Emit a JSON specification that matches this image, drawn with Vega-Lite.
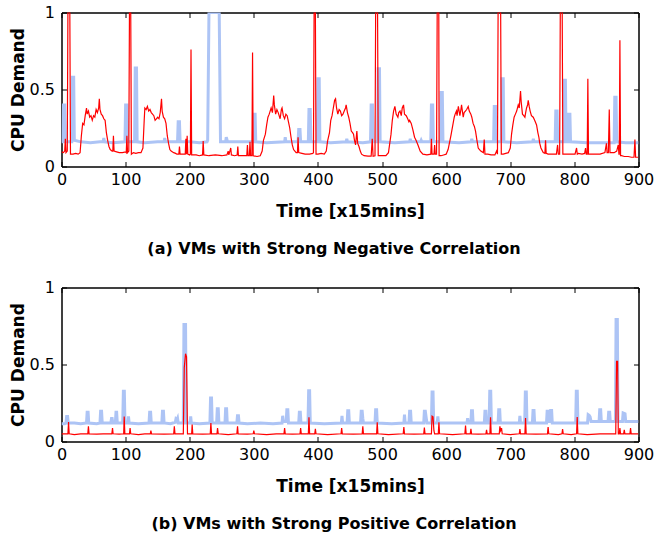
{
"$schema": "https://vega.github.io/schema/vega-lite/v6.json",
"padding": {"left": 8.5, "top": 3.5, "right": 0, "bottom": 5},
"background": "white",
"config": {
 "view": {"stroke": "black", "strokeWidth": 1},
 "axis": {"grid": false, "labelFlush": false, "domain": true, "domainColor": "black", "domainWidth": 1, "tickColor": "black", "tickWidth": 1, "tickSize": -5, "labelFont": "DejaVu Sans", "labelFontSize": 16, "labelColor": "black", "titleFont": "DejaVu Sans", "titleFontSize": 17, "titleFontWeight": "bold", "titleColor": "black"},
 "title": {"font": "DejaVu Sans", "fontSize": 16, "fontWeight": "bold", "color": "black"},
 "concat": {"spacing": 21}
},
"datasets": {
"a_blue": [{"t":0,"v":0.16},{"t":2,"v":0.16},{"t":3,"v":0.4},{"t":5,"v":0.4},{"t":6,"v":0.16},{"t":10,"v":0.16},{"t":16,"v":0.16},{"t":17,"v":0.58},{"t":19,"v":0.58},{"t":20,"v":0.17},{"t":30,"v":0.16},{"t":45,"v":0.155},{"t":60,"v":0.16},{"t":65,"v":0.16},{"t":66,"v":0.185},{"t":67,"v":0.16},{"t":80,"v":0.155},{"t":99,"v":0.16},{"t":100,"v":0.4},{"t":102,"v":0.4},{"t":103,"v":0.16},{"t":114,"v":0.16},{"t":115,"v":0.64},{"t":117,"v":0.64},{"t":118,"v":0.16},{"t":130,"v":0.155},{"t":150,"v":0.16},{"t":160,"v":0.16},{"t":161,"v":0.185},{"t":162,"v":0.16},{"t":181,"v":0.16},{"t":182,"v":0.29},{"t":184,"v":0.29},{"t":185,"v":0.16},{"t":200,"v":0.16},{"t":215,"v":0.155},{"t":227,"v":0.16},{"t":228,"v":0.17},{"t":230,"v":1.0},{"t":246,"v":1.0},{"t":248,"v":0.16},{"t":256,"v":0.16},{"t":257,"v":0.19},{"t":259,"v":0.16},{"t":275,"v":0.16},{"t":299,"v":0.16},{"t":300,"v":0.34},{"t":302,"v":0.34},{"t":303,"v":0.16},{"t":320,"v":0.155},{"t":348,"v":0.16},{"t":349,"v":0.19},{"t":350,"v":0.16},{"t":369,"v":0.16},{"t":370,"v":0.24},{"t":372,"v":0.24},{"t":373,"v":0.16},{"t":385,"v":0.16},{"t":386,"v":0.37},{"t":388,"v":0.37},{"t":389,"v":0.16},{"t":399,"v":0.16},{"t":400,"v":0.57},{"t":402,"v":0.57},{"t":403,"v":0.16},{"t":420,"v":0.155},{"t":444,"v":0.16},{"t":445,"v":0.18},{"t":446,"v":0.16},{"t":470,"v":0.155},{"t":482,"v":0.16},{"t":483,"v":0.4},{"t":485,"v":0.4},{"t":486,"v":0.16},{"t":493,"v":0.16},{"t":494,"v":0.635},{"t":496,"v":0.635},{"t":497,"v":0.16},{"t":520,"v":0.155},{"t":543,"v":0.16},{"t":544,"v":0.18},{"t":545,"v":0.16},{"t":560,"v":0.16},{"t":561,"v":0.17},{"t":562,"v":0.16},{"t":576,"v":0.16},{"t":577,"v":0.4},{"t":579,"v":0.4},{"t":580,"v":0.16},{"t":591,"v":0.16},{"t":592,"v":0.48},{"t":594,"v":0.48},{"t":595,"v":0.16},{"t":620,"v":0.155},{"t":639,"v":0.16},{"t":640,"v":0.18},{"t":641,"v":0.16},{"t":674,"v":0.16},{"t":675,"v":0.39},{"t":677,"v":0.39},{"t":678,"v":0.16},{"t":686,"v":0.16},{"t":687,"v":0.57},{"t":689,"v":0.57},{"t":690,"v":0.16},{"t":710,"v":0.155},{"t":735,"v":0.16},{"t":736,"v":0.18},{"t":737,"v":0.16},{"t":770,"v":0.16},{"t":771,"v":0.36},{"t":773,"v":0.36},{"t":774,"v":0.16},{"t":783,"v":0.16},{"t":784,"v":0.56},{"t":786,"v":0.56},{"t":787,"v":0.16},{"t":790,"v":0.16},{"t":791,"v":0.34},{"t":793,"v":0.34},{"t":794,"v":0.16},{"t":820,"v":0.155},{"t":850,"v":0.155},{"t":862,"v":0.155},{"t":863,"v":0.45},{"t":865,"v":0.45},{"t":866,"v":0.16},{"t":880,"v":0.155},{"t":900,"v":0.155}],
"a_red": [{"t":0,"v":0.095},{"t":3,"v":0.09},{"t":5,"v":0.1},{"t":6,"v":0.18},{"t":7,"v":0.09},{"t":9,"v":0.1},{"t":10,"v":1.0},{"t":13,"v":1.0},{"t":14,"v":0.08},{"t":18,"v":0.08},{"t":22,"v":0.085},{"t":26,"v":0.08},{"t":29,"v":0.09},{"t":31,"v":0.2},{"t":33,"v":0.28},{"t":35,"v":0.27},{"t":37,"v":0.33},{"t":39,"v":0.38},{"t":40,"v":0.34},{"t":42,"v":0.36},{"t":44,"v":0.32},{"t":46,"v":0.33},{"t":48,"v":0.3},{"t":50,"v":0.33},{"t":52,"v":0.32},{"t":54,"v":0.37},{"t":56,"v":0.35},{"t":58,"v":0.38},{"t":59,"v":0.44},{"t":60,"v":0.37},{"t":62,"v":0.34},{"t":64,"v":0.33},{"t":66,"v":0.31},{"t":68,"v":0.3},{"t":70,"v":0.22},{"t":72,"v":0.17},{"t":74,"v":0.13},{"t":76,"v":0.11},{"t":79,"v":0.1},{"t":80,"v":0.1},{"t":81,"v":0.2},{"t":82,"v":0.1},{"t":86,"v":0.095},{"t":90,"v":0.09},{"t":95,"v":0.09},{"t":100,"v":0.095},{"t":101,"v":0.09},{"t":102,"v":0.2},{"t":103,"v":0.09},{"t":105,"v":0.1},{"t":106,"v":1.0},{"t":108,"v":1.0},{"t":109,"v":0.08},{"t":112,"v":0.09},{"t":116,"v":0.085},{"t":120,"v":0.09},{"t":124,"v":0.09},{"t":127,"v":0.12},{"t":129,"v":0.3},{"t":130,"v":0.38},{"t":132,"v":0.37},{"t":134,"v":0.39},{"t":136,"v":0.36},{"t":138,"v":0.37},{"t":140,"v":0.35},{"t":142,"v":0.34},{"t":144,"v":0.33},{"t":146,"v":0.3},{"t":148,"v":0.31},{"t":150,"v":0.32},{"t":152,"v":0.31},{"t":154,"v":0.35},{"t":156,"v":0.44},{"t":157,"v":0.36},{"t":159,"v":0.32},{"t":161,"v":0.31},{"t":163,"v":0.28},{"t":165,"v":0.2},{"t":167,"v":0.15},{"t":169,"v":0.11},{"t":171,"v":0.1},{"t":175,"v":0.09},{"t":178,"v":0.085},{"t":180,"v":0.08},{"t":183,"v":0.08},{"t":184,"v":0.13},{"t":185,"v":0.08},{"t":190,"v":0.08},{"t":193,"v":0.08},{"t":194,"v":0.18},{"t":195,"v":0.08},{"t":196,"v":0.2},{"t":197,"v":0.08},{"t":200,"v":0.075},{"t":201,"v":0.08},{"t":202,"v":0.76},{"t":203,"v":0.075},{"t":210,"v":0.075},{"t":215,"v":0.07},{"t":220,"v":0.075},{"t":221,"v":0.165},{"t":222,"v":0.075},{"t":230,"v":0.07},{"t":240,"v":0.075},{"t":250,"v":0.07},{"t":258,"v":0.075},{"t":260,"v":0.1},{"t":261,"v":0.075},{"t":264,"v":0.12},{"t":265,"v":0.075},{"t":270,"v":0.07},{"t":274,"v":0.075},{"t":275,"v":0.13},{"t":276,"v":0.07},{"t":285,"v":0.07},{"t":289,"v":0.07},{"t":290,"v":0.14},{"t":291,"v":0.07},{"t":293,"v":0.07},{"t":294,"v":0.16},{"t":295,"v":0.07},{"t":297,"v":0.07},{"t":298,"v":0.74},{"t":299,"v":0.07},{"t":305,"v":0.065},{"t":310,"v":0.07},{"t":313,"v":0.1},{"t":315,"v":0.17},{"t":318,"v":0.21},{"t":320,"v":0.27},{"t":322,"v":0.32},{"t":324,"v":0.34},{"t":327,"v":0.38},{"t":329,"v":0.35},{"t":331,"v":0.46},{"t":332,"v":0.4},{"t":334,"v":0.34},{"t":336,"v":0.37},{"t":338,"v":0.35},{"t":341,"v":0.31},{"t":343,"v":0.37},{"t":344,"v":0.38},{"t":346,"v":0.33},{"t":348,"v":0.31},{"t":350,"v":0.34},{"t":352,"v":0.33},{"t":354,"v":0.29},{"t":356,"v":0.25},{"t":358,"v":0.19},{"t":360,"v":0.14},{"t":362,"v":0.11},{"t":364,"v":0.1},{"t":366,"v":0.09},{"t":368,"v":0.09},{"t":369,"v":0.19},{"t":370,"v":0.09},{"t":375,"v":0.085},{"t":380,"v":0.08},{"t":387,"v":0.08},{"t":392,"v":0.085},{"t":393,"v":0.09},{"t":394,"v":1.0},{"t":396,"v":1.0},{"t":397,"v":0.08},{"t":400,"v":0.08},{"t":405,"v":0.085},{"t":410,"v":0.08},{"t":413,"v":0.1},{"t":415,"v":0.165},{"t":418,"v":0.22},{"t":420,"v":0.3},{"t":422,"v":0.33},{"t":424,"v":0.38},{"t":426,"v":0.43},{"t":427.5,"v":0.44},{"t":429,"v":0.38},{"t":431,"v":0.34},{"t":433,"v":0.37},{"t":435,"v":0.36},{"t":437,"v":0.33},{"t":439,"v":0.34},{"t":441,"v":0.36},{"t":443,"v":0.38},{"t":444,"v":0.4},{"t":446,"v":0.35},{"t":448,"v":0.32},{"t":450,"v":0.28},{"t":452,"v":0.23},{"t":454,"v":0.22},{"t":455.5,"v":0.21},{"t":457,"v":0.17},{"t":458.7,"v":0.14},{"t":460.7,"v":0.23},{"t":462,"v":0.15},{"t":464,"v":0.13},{"t":466,"v":0.1},{"t":468,"v":0.08},{"t":472,"v":0.07},{"t":478,"v":0.067},{"t":483,"v":0.067},{"t":484.7,"v":0.18},{"t":486,"v":0.067},{"t":489,"v":0.07},{"t":490,"v":1.0},{"t":493,"v":1.0},{"t":494,"v":0.07},{"t":500,"v":0.07},{"t":506,"v":0.07},{"t":510,"v":0.09},{"t":512,"v":0.15},{"t":514,"v":0.21},{"t":516,"v":0.3},{"t":518,"v":0.36},{"t":520,"v":0.39},{"t":522,"v":0.34},{"t":524.7,"v":0.32},{"t":526,"v":0.35},{"t":528,"v":0.36},{"t":530,"v":0.33},{"t":531.5,"v":0.38},{"t":533.5,"v":0.4},{"t":535,"v":0.34},{"t":537.7,"v":0.33},{"t":540,"v":0.31},{"t":541.9,"v":0.29},{"t":543,"v":0.3},{"t":545.5,"v":0.28},{"t":548,"v":0.24},{"t":550.7,"v":0.19},{"t":553,"v":0.17},{"t":556,"v":0.14},{"t":559.5,"v":0.1},{"t":563.7,"v":0.08},{"t":570,"v":0.075},{"t":576,"v":0.08},{"t":577,"v":0.18},{"t":578,"v":0.08},{"t":581,"v":0.08},{"t":582,"v":0.14},{"t":583,"v":0.08},{"t":585,"v":0.08},{"t":586,"v":1.0},{"t":588.5,"v":1.0},{"t":589,"v":0.07},{"t":592,"v":0.07},{"t":596,"v":0.075},{"t":600,"v":0.08},{"t":603,"v":0.11},{"t":605,"v":0.15},{"t":607.4,"v":0.2},{"t":610,"v":0.26},{"t":612.6,"v":0.32},{"t":614,"v":0.34},{"t":616,"v":0.36},{"t":617,"v":0.33},{"t":619,"v":0.39},{"t":621.4,"v":0.33},{"t":623,"v":0.37},{"t":624,"v":0.4},{"t":626.6,"v":0.32},{"t":628,"v":0.35},{"t":630,"v":0.36},{"t":632,"v":0.37},{"t":634.4,"v":0.39},{"t":636,"v":0.36},{"t":638.5,"v":0.34},{"t":640,"v":0.32},{"t":642,"v":0.28},{"t":644,"v":0.26},{"t":645.8,"v":0.23},{"t":648,"v":0.17},{"t":650,"v":0.12},{"t":652,"v":0.11},{"t":654,"v":0.1},{"t":658,"v":0.09},{"t":659.4,"v":0.175},{"t":660.5,"v":0.08},{"t":665,"v":0.08},{"t":670,"v":0.075},{"t":676,"v":0.075},{"t":678.6,"v":0.1},{"t":680,"v":0.08},{"t":681,"v":1.0},{"t":685,"v":1.0},{"t":686,"v":0.08},{"t":689,"v":0.08},{"t":693,"v":0.085},{"t":697,"v":0.09},{"t":700,"v":0.12},{"t":702,"v":0.21},{"t":704,"v":0.27},{"t":706,"v":0.32},{"t":708,"v":0.34},{"t":710,"v":0.36},{"t":712.4,"v":0.4},{"t":714,"v":0.38},{"t":716,"v":0.49},{"t":717,"v":0.42},{"t":719,"v":0.34},{"t":721,"v":0.33},{"t":722.8,"v":0.32},{"t":724,"v":0.35},{"t":725.4,"v":0.38},{"t":727,"v":0.4},{"t":728,"v":0.43},{"t":729.5,"v":0.39},{"t":731,"v":0.36},{"t":733,"v":0.33},{"t":735.8,"v":0.32},{"t":738,"v":0.3},{"t":741,"v":0.27},{"t":743,"v":0.22},{"t":744.6,"v":0.19},{"t":746,"v":0.15},{"t":747.8,"v":0.12},{"t":751.4,"v":0.09},{"t":754,"v":0.085},{"t":755,"v":0.17},{"t":756,"v":0.085},{"t":759,"v":0.08},{"t":765,"v":0.08},{"t":772,"v":0.08},{"t":773.8,"v":0.14},{"t":775,"v":0.08},{"t":777,"v":0.08},{"t":778,"v":1.0},{"t":781,"v":1.0},{"t":782,"v":0.08},{"t":784,"v":0.08},{"t":790,"v":0.08},{"t":795,"v":0.08},{"t":801,"v":0.08},{"t":803.4,"v":0.12},{"t":804.5,"v":0.08},{"t":806,"v":0.085},{"t":812,"v":0.08},{"t":816,"v":0.085},{"t":817.4,"v":0.12},{"t":818.5,"v":0.08},{"t":820,"v":0.08},{"t":821,"v":0.57},{"t":822,"v":0.08},{"t":824,"v":0.08},{"t":830,"v":0.08},{"t":835,"v":0.08},{"t":840,"v":0.08},{"t":847.6,"v":0.09},{"t":850,"v":0.15},{"t":851,"v":0.09},{"t":853,"v":0.09},{"t":854.4,"v":0.37},{"t":855.5,"v":0.09},{"t":858,"v":0.09},{"t":862,"v":0.09},{"t":866,"v":0.1},{"t":868.4,"v":0.14},{"t":869.5,"v":0.08},{"t":870,"v":0.08},{"t":871,"v":0.82},{"t":872,"v":0.07},{"t":873.6,"v":0.07},{"t":878,"v":0.065},{"t":884,"v":0.065},{"t":889,"v":0.06},{"t":892,"v":0.06},{"t":893,"v":0.06},{"t":894.4,"v":0.175},{"t":895.5,"v":0.06},{"t":900,"v":0.06}],
"b_blue": [{"t":0,"v":0.115},{"t":5,"v":0.115},{"t":7,"v":0.12},{"t":8,"v":0.163},{"t":9.5,"v":0.163},{"t":10.5,"v":0.12},{"t":20,"v":0.12},{"t":30,"v":0.115},{"t":39,"v":0.12},{"t":40,"v":0.19},{"t":41.5,"v":0.19},{"t":42.5,"v":0.12},{"t":55,"v":0.115},{"t":60,"v":0.12},{"t":61,"v":0.196},{"t":62.5,"v":0.196},{"t":63.5,"v":0.12},{"t":77,"v":0.12},{"t":78,"v":0.15},{"t":79,"v":0.15},{"t":80,"v":0.12},{"t":84,"v":0.12},{"t":85,"v":0.19},{"t":86,"v":0.19},{"t":87,"v":0.12},{"t":95.5,"v":0.12},{"t":96.5,"v":0.326},{"t":98,"v":0.326},{"t":99,"v":0.12},{"t":103.5,"v":0.12},{"t":104.5,"v":0.163},{"t":105.5,"v":0.12},{"t":120,"v":0.115},{"t":136.5,"v":0.12},{"t":137.5,"v":0.19},{"t":139,"v":0.19},{"t":140,"v":0.12},{"t":156.5,"v":0.12},{"t":157.5,"v":0.196},{"t":159,"v":0.196},{"t":160,"v":0.12},{"t":170,"v":0.115},{"t":177.5,"v":0.125},{"t":178.5,"v":0.146},{"t":180,"v":0.14},{"t":181,"v":0.15},{"t":182,"v":0.12},{"t":190,"v":0.12},{"t":191,"v":0.76},{"t":193.5,"v":0.76},{"t":194.5,"v":0.12},{"t":200.5,"v":0.12},{"t":201.5,"v":0.163},{"t":202.5,"v":0.12},{"t":215,"v":0.115},{"t":231.5,"v":0.12},{"t":232.5,"v":0.283},{"t":234,"v":0.283},{"t":235,"v":0.12},{"t":242,"v":0.12},{"t":243,"v":0.213},{"t":244.5,"v":0.213},{"t":245.5,"v":0.12},{"t":255,"v":0.12},{"t":256,"v":0.213},{"t":257.5,"v":0.213},{"t":258.5,"v":0.12},{"t":273.5,"v":0.12},{"t":274.5,"v":0.167},{"t":276,"v":0.167},{"t":277,"v":0.12},{"t":290,"v":0.115},{"t":310,"v":0.12},{"t":330,"v":0.115},{"t":344,"v":0.12},{"t":345,"v":0.167},{"t":346,"v":0.13},{"t":350.5,"v":0.13},{"t":351.5,"v":0.206},{"t":353,"v":0.206},{"t":354,"v":0.12},{"t":370,"v":0.12},{"t":371,"v":0.19},{"t":372.5,"v":0.19},{"t":373.5,"v":0.12},{"t":384.5,"v":0.12},{"t":385.5,"v":0.33},{"t":387,"v":0.33},{"t":388,"v":0.12},{"t":410,"v":0.115},{"t":436.5,"v":0.12},{"t":437.5,"v":0.167},{"t":438.5,"v":0.12},{"t":445.5,"v":0.12},{"t":446.5,"v":0.2},{"t":448,"v":0.2},{"t":449,"v":0.12},{"t":466.5,"v":0.12},{"t":467.5,"v":0.196},{"t":469,"v":0.196},{"t":470,"v":0.15},{"t":471,"v":0.12},{"t":489,"v":0.12},{"t":490,"v":0.206},{"t":491.5,"v":0.206},{"t":492.5,"v":0.12},{"t":515,"v":0.115},{"t":534,"v":0.12},{"t":535,"v":0.174},{"t":536,"v":0.12},{"t":542,"v":0.12},{"t":543,"v":0.196},{"t":544.5,"v":0.196},{"t":545.5,"v":0.12},{"t":565,"v":0.12},{"t":566,"v":0.196},{"t":567.5,"v":0.196},{"t":569,"v":0.15},{"t":570,"v":0.12},{"t":577,"v":0.12},{"t":578,"v":0.322},{"t":579.5,"v":0.322},{"t":580.5,"v":0.12},{"t":586,"v":0.12},{"t":587,"v":0.163},{"t":588,"v":0.12},{"t":610,"v":0.12},{"t":632.5,"v":0.12},{"t":633.5,"v":0.152},{"t":634.5,"v":0.12},{"t":638.5,"v":0.12},{"t":639.5,"v":0.2},{"t":641,"v":0.2},{"t":642,"v":0.12},{"t":659.5,"v":0.12},{"t":660.5,"v":0.196},{"t":662,"v":0.196},{"t":663,"v":0.12},{"t":667,"v":0.12},{"t":668,"v":0.326},{"t":669.5,"v":0.326},{"t":670.5,"v":0.12},{"t":681,"v":0.12},{"t":682,"v":0.206},{"t":683.5,"v":0.206},{"t":684.5,"v":0.12},{"t":700,"v":0.12},{"t":714,"v":0.12},{"t":715,"v":0.167},{"t":716,"v":0.12},{"t":722.5,"v":0.12},{"t":723.5,"v":0.322},{"t":725,"v":0.322},{"t":726,"v":0.12},{"t":734.5,"v":0.12},{"t":735.5,"v":0.202},{"t":737,"v":0.202},{"t":738,"v":0.12},{"t":756.5,"v":0.12},{"t":757.5,"v":0.196},{"t":759,"v":0.196},{"t":760,"v":0.13},{"t":762,"v":0.13},{"t":763,"v":0.202},{"t":764.5,"v":0.202},{"t":765.5,"v":0.12},{"t":780,"v":0.12},{"t":802,"v":0.12},{"t":803,"v":0.326},{"t":804.5,"v":0.326},{"t":805.5,"v":0.12},{"t":820.5,"v":0.12},{"t":821.5,"v":0.174},{"t":823,"v":0.17},{"t":824.5,"v":0.16},{"t":826,"v":0.13},{"t":838.5,"v":0.13},{"t":839.5,"v":0.206},{"t":841,"v":0.206},{"t":842,"v":0.13},{"t":852.5,"v":0.13},{"t":853.5,"v":0.19},{"t":855,"v":0.19},{"t":856,"v":0.13},{"t":864,"v":0.13},{"t":865,"v":0.793},{"t":867,"v":0.793},{"t":868,"v":0.13},{"t":875,"v":0.13},{"t":876,"v":0.185},{"t":879,"v":0.18},{"t":880,"v":0.13},{"t":890,"v":0.13},{"t":900,"v":0.13}],
"b_red": [{"t":0,"v":0.05},{"t":5,"v":0.05},{"t":10,"v":0.05},{"t":11,"v":0.126},{"t":12,"v":0.05},{"t":20,"v":0.045},{"t":30,"v":0.05},{"t":41,"v":0.05},{"t":42,"v":0.098},{"t":43,"v":0.05},{"t":55,"v":0.048},{"t":65,"v":0.05},{"t":78.5,"v":0.05},{"t":79.6,"v":0.087},{"t":80.5,"v":0.05},{"t":90,"v":0.048},{"t":97,"v":0.05},{"t":97.8,"v":0.163},{"t":98.8,"v":0.05},{"t":106,"v":0.05},{"t":107,"v":0.087},{"t":108,"v":0.05},{"t":120,"v":0.045},{"t":130,"v":0.05},{"t":138.5,"v":0.05},{"t":139.4,"v":0.07},{"t":140.5,"v":0.05},{"t":160,"v":0.048},{"t":175,"v":0.05},{"t":176,"v":0.098},{"t":177,"v":0.05},{"t":190,"v":0.05},{"t":191.5,"v":0.48},{"t":193.5,"v":0.57},{"t":195,"v":0.55},{"t":196.5,"v":0.05},{"t":203,"v":0.05},{"t":203.8,"v":0.11},{"t":204.8,"v":0.05},{"t":220,"v":0.048},{"t":232,"v":0.05},{"t":233,"v":0.12},{"t":234,"v":0.05},{"t":242.5,"v":0.05},{"t":243.4,"v":0.087},{"t":244.5,"v":0.05},{"t":260,"v":0.045},{"t":273.5,"v":0.05},{"t":274.6,"v":0.098},{"t":275.5,"v":0.05},{"t":290,"v":0.048},{"t":299,"v":0.05},{"t":300,"v":0.07},{"t":301,"v":0.05},{"t":320,"v":0.045},{"t":335,"v":0.05},{"t":347,"v":0.05},{"t":348,"v":0.087},{"t":349,"v":0.05},{"t":360,"v":0.048},{"t":372,"v":0.05},{"t":373,"v":0.087},{"t":374,"v":0.05},{"t":385,"v":0.05},{"t":386,"v":0.157},{"t":387,"v":0.05},{"t":395,"v":0.05},{"t":396,"v":0.083},{"t":397,"v":0.05},{"t":415,"v":0.045},{"t":436,"v":0.05},{"t":437,"v":0.087},{"t":438,"v":0.05},{"t":455,"v":0.048},{"t":469,"v":0.05},{"t":470,"v":0.098},{"t":471,"v":0.05},{"t":491.5,"v":0.05},{"t":492.5,"v":0.124},{"t":493.5,"v":0.05},{"t":510,"v":0.045},{"t":533,"v":0.05},{"t":534,"v":0.093},{"t":535,"v":0.05},{"t":550,"v":0.048},{"t":565,"v":0.05},{"t":566,"v":0.091},{"t":567,"v":0.05},{"t":577,"v":0.05},{"t":578,"v":0.165},{"t":579.5,"v":0.16},{"t":580.9,"v":0.07},{"t":582,"v":0.05},{"t":587.7,"v":0.05},{"t":588.7,"v":0.124},{"t":589.7,"v":0.05},{"t":610,"v":0.045},{"t":629.2,"v":0.05},{"t":630.2,"v":0.104},{"t":631.2,"v":0.05},{"t":637.6,"v":0.05},{"t":638.6,"v":0.083},{"t":639.6,"v":0.05},{"t":650,"v":0.048},{"t":662,"v":0.05},{"t":663,"v":0.076},{"t":664,"v":0.05},{"t":668.2,"v":0.05},{"t":669.2,"v":0.157},{"t":670.2,"v":0.05},{"t":682.8,"v":0.05},{"t":683.8,"v":0.098},{"t":685,"v":0.07},{"t":686.4,"v":0.087},{"t":687.4,"v":0.05},{"t":700,"v":0.045},{"t":714,"v":0.05},{"t":715,"v":0.08},{"t":716,"v":0.05},{"t":722.8,"v":0.05},{"t":723.8,"v":0.152},{"t":724.8,"v":0.05},{"t":740,"v":0.048},{"t":758,"v":0.05},{"t":759,"v":0.093},{"t":760,"v":0.05},{"t":775,"v":0.045},{"t":780.6,"v":0.05},{"t":781.6,"v":0.08},{"t":782.6,"v":0.05},{"t":795,"v":0.045},{"t":803.4,"v":0.05},{"t":804.4,"v":0.159},{"t":805.4,"v":0.05},{"t":820,"v":0.045},{"t":840,"v":0.05},{"t":864.5,"v":0.05},{"t":865.8,"v":0.52},{"t":867.4,"v":0.52},{"t":868.5,"v":0.05},{"t":870,"v":0.05},{"t":871,"v":0.087},{"t":872,"v":0.05},{"t":876.8,"v":0.05},{"t":877.8,"v":0.076},{"t":878.8,"v":0.05},{"t":886.6,"v":0.05},{"t":887.6,"v":0.087},{"t":888.6,"v":0.05},{"t":900,"v":0.05}]
},
"vconcat": [
 {
  "width": 577, "height": 154,
  "title": {"text": "(a) VMs with Strong Negative Correlation", "orient": "bottom", "anchor": "middle", "offset": 21, "dx": -16},
  "layer": [
   {"data": {"name": "a_blue"}, "mark": {"type": "line", "color": "#adc4f5", "strokeWidth": 3, "clip": true},
    "encoding": {
     "x": {"field": "t", "type": "quantitative", "scale": {"domain": [0, 900], "nice": false}, "axis": {"values": [0,100,200,300,400,500,600,700,800,900], "title": "Time [x15mins]", "labelPadding": 10, "titlePadding": 16}},
     "y": {"field": "v", "type": "quantitative", "scale": {"domain": [0, 1], "nice": false}, "axis": {"values": [0, 0.5, 1], "format": "~g", "title": "CPU Demand", "labelPadding": 12, "titlePadding": 1.5}}}},
   {"data": {"name": "a_red"}, "mark": {"type": "line", "color": "#ff0000", "strokeWidth": 1.2, "clip": true},
    "encoding": {
     "x": {"field": "t", "type": "quantitative", "scale": {"domain": [0, 900], "nice": false}, "axis": {"orient": "top", "values": [0,100,200,300,400,500,600,700,800,900], "labels": false, "title": null}},
     "y": {"field": "v", "type": "quantitative", "scale": {"domain": [0, 1], "nice": false}, "axis": {"orient": "right", "values": [0, 0.5, 1], "labels": false, "title": null}}}}
  ],
  "resolve": {"axis": {"x": "independent", "y": "independent"}}
 },
 {
  "width": 577, "height": 154,
  "title": {"text": "(b) VMs with Strong Positive Correlation", "orient": "bottom", "anchor": "middle", "offset": 21, "dx": -16},
  "layer": [
   {"data": {"name": "b_blue"}, "mark": {"type": "line", "color": "#adc4f5", "strokeWidth": 3, "clip": true},
    "encoding": {
     "x": {"field": "t", "type": "quantitative", "scale": {"domain": [0, 900], "nice": false}, "axis": {"values": [0,100,200,300,400,500,600,700,800,900], "title": "Time [x15mins]", "labelPadding": 10, "titlePadding": 16}},
     "y": {"field": "v", "type": "quantitative", "scale": {"domain": [0, 1], "nice": false}, "axis": {"values": [0, 0.5, 1], "format": "~g", "title": "CPU Demand", "labelPadding": 12, "titlePadding": 1.5}}}},
   {"data": {"name": "b_red"}, "mark": {"type": "line", "color": "#ff0000", "strokeWidth": 1.2, "clip": true},
    "encoding": {
     "x": {"field": "t", "type": "quantitative", "scale": {"domain": [0, 900], "nice": false}, "axis": {"orient": "top", "values": [0,100,200,300,400,500,600,700,800,900], "labels": false, "title": null}},
     "y": {"field": "v", "type": "quantitative", "scale": {"domain": [0, 1], "nice": false}, "axis": {"orient": "right", "values": [0, 0.5, 1], "labels": false, "title": null}}}}
  ],
  "resolve": {"axis": {"x": "independent", "y": "independent"}}
 }
]
}
